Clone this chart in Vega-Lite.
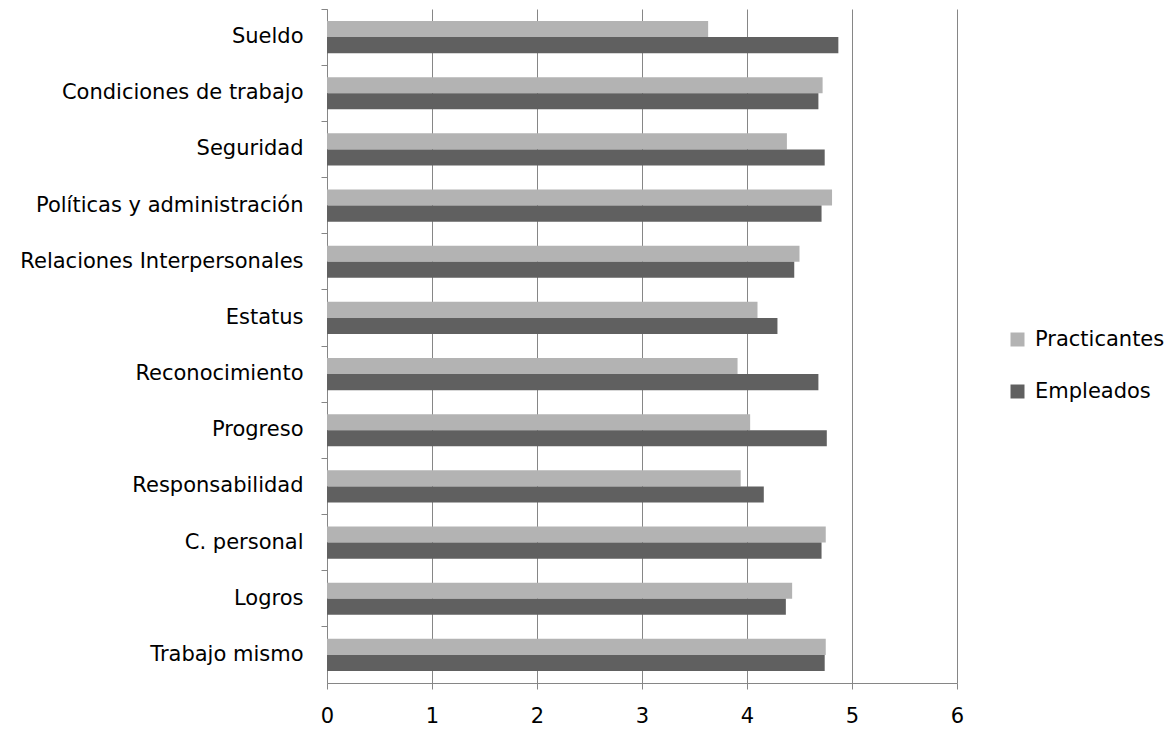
{
  "$schema": "https://vega.github.io/schema/vega-lite/v6.json",
  "width": 630,
  "height": 674,
  "autosize": {"type": "none"},
  "padding": {"left": 327, "top": 9, "right": 216, "bottom": 47},
  "background": "white",
  "config": {"view": {"stroke": null}, "font": "DejaVu Sans"},
  "data": {
    "values": [
      {"factor": "Sueldo", "group": "Practicantes", "value": 3.63},
      {"factor": "Sueldo", "group": "Empleados", "value": 4.87},
      {"factor": "Condiciones de trabajo", "group": "Practicantes", "value": 4.72},
      {"factor": "Condiciones de trabajo", "group": "Empleados", "value": 4.68},
      {"factor": "Seguridad", "group": "Practicantes", "value": 4.38},
      {"factor": "Seguridad", "group": "Empleados", "value": 4.74},
      {"factor": "Políticas y administración", "group": "Practicantes", "value": 4.81},
      {"factor": "Políticas y administración", "group": "Empleados", "value": 4.71},
      {"factor": "Relaciones Interpersonales", "group": "Practicantes", "value": 4.5},
      {"factor": "Relaciones Interpersonales", "group": "Empleados", "value": 4.45},
      {"factor": "Estatus", "group": "Practicantes", "value": 4.1},
      {"factor": "Estatus", "group": "Empleados", "value": 4.29},
      {"factor": "Reconocimiento", "group": "Practicantes", "value": 3.91},
      {"factor": "Reconocimiento", "group": "Empleados", "value": 4.68},
      {"factor": "Progreso", "group": "Practicantes", "value": 4.03},
      {"factor": "Progreso", "group": "Empleados", "value": 4.76},
      {"factor": "Responsabilidad", "group": "Practicantes", "value": 3.94},
      {"factor": "Responsabilidad", "group": "Empleados", "value": 4.16},
      {"factor": "C. personal", "group": "Practicantes", "value": 4.75},
      {"factor": "C. personal", "group": "Empleados", "value": 4.71},
      {"factor": "Logros", "group": "Practicantes", "value": 4.43},
      {"factor": "Logros", "group": "Empleados", "value": 4.37},
      {"factor": "Trabajo mismo", "group": "Practicantes", "value": 4.75},
      {"factor": "Trabajo mismo", "group": "Empleados", "value": 4.74}
    ]
  },
  "mark": {"type": "bar"},
  "encoding": {
    "y": {
      "field": "factor",
      "type": "nominal",
      "sort": ["Sueldo", "Condiciones de trabajo", "Seguridad", "Políticas y administración", "Relaciones Interpersonales", "Estatus", "Reconocimiento", "Progreso", "Responsabilidad", "C. personal", "Logros", "Trabajo mismo"],
      "scale": {"paddingInner": 0, "paddingOuter": 0},
      "axis": {
        "title": null,
        "bandPosition": 0,
        "labelFontSize": 21,
        "labelColor": "black",
        "labelPadding": 18,
        "labelLimit": 400,
        "tickSize": 6,
        "domainColor": "#868686",
        "tickColor": "#868686",
        "grid": false
      }
    },
    "x": {
      "field": "value",
      "type": "quantitative",
      "scale": {"domain": [0, 6], "nice": false},
      "axis": {
        "title": null,
        "values": [0, 1, 2, 3, 4, 5, 6],
        "grid": true,
        "gridColor": "#868686",
        "gridOpacity": 1,
        "domainColor": "#868686",
        "tickColor": "#868686",
        "tickSize": 6,
        "labelFlush": false,
        "labelFontSize": 21,
        "labelColor": "black",
        "labelPadding": 16
      }
    },
    "yOffset": {
      "field": "group",
      "sort": ["Practicantes", "Empleados"],
      "scale": {"paddingOuter": 0.75, "paddingInner": 0}
    },
    "color": {
      "field": "group",
      "type": "nominal",
      "scale": {"domain": ["Practicantes", "Empleados"], "range": ["#b3b3b3", "#606060"]},
      "legend": {
        "title": null,
        "orient": "none",
        "legendX": 680,
        "legendY": 320,
        "padding": 0,
        "symbolType": "square",
        "symbolSize": 196,
        "symbolStrokeWidth": 0,
        "labelFontSize": 21,
        "labelColor": "black",
        "labelOffset": 7,
        "rowPadding": 30
      }
    }
  }
}
